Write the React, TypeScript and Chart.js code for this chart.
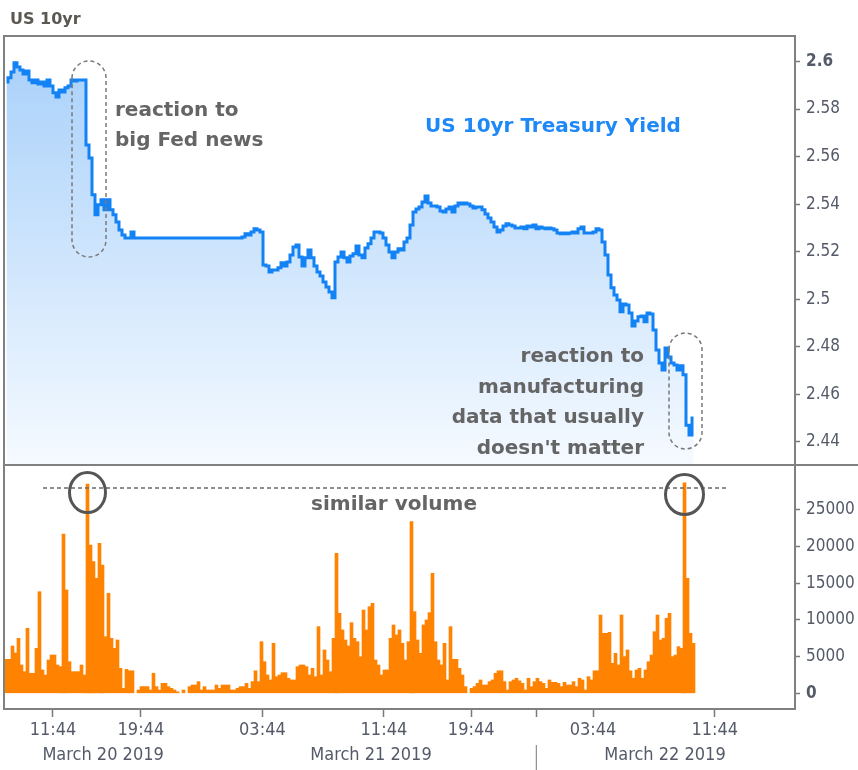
import React, { useEffect, useRef } from 'react';
import { Chart, registerables } from 'chart.js';

Chart.register(...registerables);

// US 10yr yield, one value per bar slot (left to right)
const yieldValues = [
  2.5914, 2.5931, 2.5956, 2.5994, 2.5977, 2.5964, 2.5947, 2.5960, 2.5922, 2.5910,
  2.5922, 2.5905, 2.5914, 2.5897, 2.5922, 2.5897, 2.5868, 2.5851, 2.5880, 2.5872,
  2.5889, 2.5897, 2.5922, 2.5918, 2.5922, 2.5922, 2.5922, 2.5649, 2.5594, 2.5439,
  2.5355, 2.5397, 2.5418, 2.5376, 2.5418, 2.5376, 2.5355, 2.5325, 2.5291, 2.5270,
  2.5258, 2.5258, 2.5283, 2.5258, 2.5258, 2.5258, 2.5258, 2.5258, 2.5258, 2.5258,
  2.5258, 2.5258, 2.5258, 2.5258, 2.5258, 2.5258, 2.5258, 2.5258, 2.5258, 2.5258,
  2.5258, 2.5258, 2.5258, 2.5258, 2.5258, 2.5258, 2.5258, 2.5258, 2.5258, 2.5258,
  2.5258, 2.5258, 2.5258, 2.5258, 2.5258, 2.5258, 2.5258, 2.5258, 2.5258, 2.5262,
  2.5275, 2.5270, 2.5283, 2.5296, 2.5291, 2.5283, 2.5144, 2.5140, 2.5115, 2.5123,
  2.5123, 2.5132, 2.5153, 2.5140, 2.5157, 2.5186, 2.5220, 2.5228, 2.5178, 2.5140,
  2.5174, 2.5207, 2.5174, 2.5140, 2.5115, 2.5098, 2.5073, 2.5052, 2.5031, 2.5006,
  2.5157, 2.5178, 2.5199, 2.5174, 2.5157, 2.5182, 2.5191, 2.5224, 2.5186, 2.5174,
  2.5216, 2.5233, 2.5258, 2.5283, 2.5283, 2.5279, 2.5258, 2.5228, 2.5199, 2.5174,
  2.5199, 2.5212, 2.5207, 2.5241, 2.5258, 2.5312, 2.5367, 2.5380, 2.5388, 2.5409,
  2.5434, 2.5405, 2.5392, 2.5392, 2.5388, 2.5371, 2.5367, 2.5380, 2.5388, 2.5367,
  2.5392, 2.5405, 2.5401, 2.5405, 2.5401, 2.5392, 2.5384, 2.5388, 2.5388, 2.5376,
  2.5359, 2.5342, 2.5325, 2.5304, 2.5283, 2.5291, 2.5308, 2.5317, 2.5312, 2.5308,
  2.5300, 2.5300, 2.5304, 2.5296, 2.5308, 2.5304, 2.5312, 2.5296, 2.5304, 2.5300,
  2.5296, 2.5300, 2.5296, 2.5291, 2.5279, 2.5275, 2.5279, 2.5275, 2.5279, 2.5283,
  2.5279, 2.5296, 2.5304, 2.5279, 2.5279, 2.5279, 2.5283, 2.5296, 2.5291, 2.5241,
  2.5186, 2.5102, 2.5048, 2.5018, 2.4997, 2.4947, 2.4980, 2.4976, 2.4942, 2.4888,
  2.4909, 2.4926, 2.4930, 2.4905, 2.4942, 2.4938, 2.4871, 2.4787, 2.4732, 2.4703,
  2.4795, 2.4757, 2.4732, 2.4724, 2.4703, 2.4720, 2.4682, 2.4470, 2.4429, 2.4501,
];

// Volume per bar slot (null = no trades)
const volumeValues = [
  4640, 4640, 6450, 5500, 7500, 3860, 2950, 8870, 2730, 2730,
  6140, 13860, 3180, 2500, 4540, 5220, 5220, 3860, 3630, 21730,
  14090, 4310, 2950, 2950, 2950, 3860, 2500, 28550, 20230, 17950,
  15690, 20460, 17500, 7720, 13640, 7500, 6140, 7270, 3410, 680,
  3270, 3070, 3070, null, 450, 910, 910, 910, 450, 2730,
  910, 450, 1360, 1360, 910, 680, 450, 200, null, 450,
  null, 910, 1130, 1130, 1590, 450, 910, 450, 450, 450,
  1130, 680, 1130, 1130, 1130, 450, 450, 680, 910, 910,
  1360, 680, 1590, 3070, 1590, 7040, 4310, 2500, 1820, 6820,
  2270, 2500, 2810, 2810, 2050, 1820, 1820, 3630, 3860, 3860,
  3630, 2500, 3410, 2270, 9090, 2500, 5910, 4540, 2950, 7500,
  19100, 10910, 8640, 7270, 6450, 9630, 7500, 7040, 4990, 11360,
  8640, 11810, 12270, 4540, 3860, 2500, 3180, 3180, 7500, 9320,
  7950, 8640, 6820, 4540, 7040, 23410, 11130, 7270, 5450, 9320,
  10000, 11000, 16370, 7040, 4540, 3860, 6820, 1820, 9090, 4640,
  4640, 3410, 2500, 910, null, 680, 910, 1360, 1820, 1130,
  1130, 1590, 1820, 2730, 3070, 3070, 1590, 450, 1590, 1820,
  2050, 1700, 1360, 450, 2050, 910, 1590, 2050, 1590, 1360,
  680, 1820, 1500, 1500, 1360, 910, 1500, 1130, 1130, 1590,
  910, 2050, 1820, 450, 2270, 1820, 3070, 3070, 10680, 8180,
  8180, 8320, 4090, 5450, 3860, 10680, 5000, 5910, 3070, 2050,
  3180, 3410, 2050, 3180, 4310, 5220, 8400, 10680, 7270, 7500,
  10230, 10910, 5000, 5220, 6360, 6140, 28700, 15690, 8180, 6820,
];

// time axis ticks (positions in bar-slot units)
const timeTickIndex = [15.5, 44.8, 85.3, 125.8, 154.9, 176.6, 195.5, 236.1];
const timeTickLabels = ['11:44', '19:44', '03:44', '11:44', '19:44', '', '03:44', '11:44'];
const dateTickIndex = [32.2, 121.5, 219.5];
const dateTickLabels = ['March 20 2019', 'March 21 2019', 'March 22 2019'];
const daySeparatorIndex = 176.6;

const yieldTicks = [2.44, 2.46, 2.48, 2.5, 2.52, 2.54, 2.56, 2.58, 2.6];
const volumeTicks = [0, 5000, 10000, 15000, 20000, 25000];
const similarVolumeLevel = 28000;
const fedSpikeIndex = 27;
const mfgSpikeIndex = 226;

const FONT = "'DejaVu Sans', 'Verdana', sans-serif";
const AXIS_FONT = "'DejaVu Sans Condensed', 'DejaVu Sans', sans-serif";
const AXIS_TEXT = '#545a68';
const NOTE_TEXT = '#656565';

export default function App() {
  const ref = useRef<HTMLCanvasElement>(null);

  useEffect(() => {
    const canvas = ref.current;
    if (!canvas) return;
    const idx = yieldValues.map((_, i) => i);
    const xMin = -0.83;
    const xMax = 262.83;

    const capsule = (c: CanvasRenderingContext2D, x: number, y: number, w: number, h: number) => {
      const r = w / 2;
      c.beginPath();
      c.moveTo(x, y + r);
      c.arc(x + r, y + r, r, Math.PI, 0);
      c.lineTo(x + w, y + h - r);
      c.arc(x + r, y + h - r, r, 0, Math.PI);
      c.closePath();
      c.stroke();
    };

    const annotations = {
      id: 'annotations',
      afterDraw(chart: any) {
        const c: CanvasRenderingContext2D = chart.ctx;
        const xs = chart.scales.x;
        const ys = chart.scales.y;
        const vs = chart.scales.y2;
        const { left, right, top, bottom } = chart.chartArea;
        c.save();
        // frame
        c.strokeStyle = '#808080';
        c.lineWidth = 2;
        c.strokeRect(left, top, right - left, bottom - top);
        c.beginPath();
        c.moveTo(left, ys.bottom);
        c.lineTo(chart.width, ys.bottom);
        c.stroke();
        // day separator below the axis
        const sx = xs.getPixelForValue(daySeparatorIndex);
        c.strokeStyle = '#7a7a7a';
        c.lineWidth = 1;
        c.beginPath();
        c.moveTo(sx, 745);
        c.lineTo(sx, 770);
        c.stroke();
        // title
        c.textBaseline = 'alphabetic';
        c.fillStyle = '#5b5752';
        c.font = `bold 16px ${FONT}`;
        c.textAlign = 'left';
        c.fillText('US 10yr', 10, 24);
        // series name
        c.fillStyle = '#1e88f7';
        c.font = `bold 20px ${FONT}`;
        c.textAlign = 'center';
        c.fillText('US 10yr Treasury Yield', 553, 132);
        // notes
        c.fillStyle = NOTE_TEXT;
        c.textAlign = 'left';
        c.fillText('reaction to', 115, 116);
        c.fillText('big Fed news', 115, 146);
        c.textAlign = 'right';
        ['reaction to', 'manufacturing', 'data that usually', "doesn't matter"].forEach((t, k) =>
          c.fillText(t, 644, 362 + k * 30.7)
        );
        c.textAlign = 'center';
        c.fillText('similar volume', 394, 510);
        // dashed capsules
        c.setLineDash([4, 3]);
        c.strokeStyle = '#7a7a7a';
        c.lineWidth = 1.5;
        capsule(c, 72, 61, 34, 196);
        capsule(c, 669, 333, 33, 116);
        // similar volume level
        const ly = vs.getPixelForValue(similarVolumeLevel);
        c.strokeStyle = '#6a6a6a';
        c.beginPath();
        c.moveTo(43, ly);
        c.lineTo(726, ly);
        c.stroke();
        c.setLineDash([]);
        // circles around spikes
        c.strokeStyle = '#555';
        c.lineWidth = 3;
        c.beginPath();
        c.ellipse(xs.getPixelForValue(fedSpikeIndex), 492.5, 18, 20, 0, 0, Math.PI * 2);
        c.stroke();
        c.beginPath();
        c.ellipse(xs.getPixelForValue(mfgSpikeIndex), 494.5, 19, 20, 0, 0, Math.PI * 2);
        c.stroke();
        c.restore();
      },
    };

    const chart = new Chart(canvas, {
      type: 'bar',
      data: {
        labels: idx,
        datasets: [
          {
            type: 'line',
            label: 'US 10yr Treasury Yield',
            data: yieldValues,
            xAxisID: 'x',
            yAxisID: 'y',
            borderColor: '#1282f5',
            borderWidth: 3,
            pointRadius: 0,
            stepped: 'middle',
            fill: 'start',
            backgroundColor: (ctx: any) => {
              const ch = ctx.chart;
              const ys = ch.scales.y;
              if (!ch.chartArea || !ys) return 'rgba(166,207,250,0.6)';
              const g = ch.ctx.createLinearGradient(0, ys.top, 0, ys.bottom);
              g.addColorStop(0, '#a6cffa');
              g.addColorStop(1, '#f5faff');
              return g;
            },
          } as any,
          {
            type: 'bar',
            label: 'Volume',
            data: volumeValues,
            xAxisID: 'x',
            yAxisID: 'y2',
            backgroundColor: '#ff8200',
            borderWidth: 0,
            barPercentage: 1,
            categoryPercentage: 1,
          } as any,
        ],
      },
      options: {
        responsive: false,
        animation: false,
        devicePixelRatio: 1,
        events: [],
        layout: { padding: { left: 4, top: 36, right: 0, bottom: 0 } },
        plugins: {
          legend: { display: false },
          tooltip: { enabled: false },
          title: { display: false },
        },
        scales: {
          x: {
            type: 'linear',
            position: 'bottom',
            min: xMin,
            max: xMax,
            offset: false,
            border: { display: false },
            grid: {
              offset: false,
              drawOnChartArea: false,
              drawTicks: true,
              tickLength: 8,
              tickColor: '#7a7a7a',
              tickWidth: 1.5,
            },
            ticks: {
              autoSkip: false,
              maxRotation: 0,
              padding: 3,
              color: AXIS_TEXT,
              font: { family: AXIS_FONT, size: 18 },
              callback: (_v: any, i: number) => timeTickLabels[i],
            },
            afterBuildTicks: (s: any) => {
              s.ticks = timeTickIndex.map((v) => ({ value: v }));
            },
            afterFit: (s: any) => {
              s.height = 30;
            },
          },
          x2: {
            type: 'linear',
            axis: 'x',
            position: 'bottom',
            min: xMin,
            max: xMax,
            offset: false,
            border: { display: false },
            grid: { display: false, drawTicks: false, offset: false },
            ticks: {
              autoSkip: false,
              maxRotation: 0,
              padding: 6,
              color: AXIS_TEXT,
              font: { family: AXIS_FONT, size: 18 },
              callback: (_v: any, i: number) => dateTickLabels[i],
            },
            afterBuildTicks: (s: any) => {
              s.ticks = dateTickIndex.map((v) => ({ value: v }));
            },
            afterFit: (s: any) => {
              s.height = 31;
            },
          },
          y: {
            type: 'linear',
            position: 'right',
            stack: 'panels',
            stackWeight: 429,
            min: 2.4303,
            max: 2.6107,
            border: { display: false },
            grid: {
              drawOnChartArea: false,
              drawTicks: true,
              tickLength: 5,
              tickColor: '#7a7a7a',
              tickWidth: 1.5,
            },
            ticks: {
              padding: 6,
              color: AXIS_TEXT,
              font: (ctx: any) => ({
                family: AXIS_FONT,
                size: 17,
                weight: ctx.index === yieldTicks.length - 1 ? 'bold' : 'normal',
              }),
              callback: (v: any) => String(Math.round(Number(v) * 100) / 100),
            },
            afterBuildTicks: (s: any) => {
              s.ticks = yieldTicks.map((v) => ({ value: v }));
            },
            afterFit: (s: any) => {
              s.width = 63;
            },
          },
          y2: {
            type: 'linear',
            position: 'right',
            stack: 'panels',
            stackWeight: 244,
            min: -2141,
            max: 31137,
            border: { display: false },
            grid: {
              drawOnChartArea: false,
              drawTicks: true,
              tickLength: 5,
              tickColor: '#7a7a7a',
              tickWidth: 1.5,
            },
            ticks: {
              padding: 6,
              color: AXIS_TEXT,
              font: (ctx: any) => ({
                family: AXIS_FONT,
                size: 17,
                weight: ctx.index === 0 ? 'bold' : 'normal',
              }),
              callback: (v: any) => String(v),
            },
            afterBuildTicks: (s: any) => {
              s.ticks = volumeTicks.map((v) => ({ value: v }));
            },
            afterFit: (s: any) => {
              s.width = 63;
            },
          },
        },
      } as any,
      plugins: [annotations],
    });

    return () => chart.destroy();
  }, []);

  return (
    <div style={{ position: 'fixed', left: 0, top: 0, width: 858, height: 770, background: '#fff' }}>
      <canvas ref={ref} width={858} height={770} style={{ display: 'block', width: 858, height: 770 }} />
    </div>
  );
}
